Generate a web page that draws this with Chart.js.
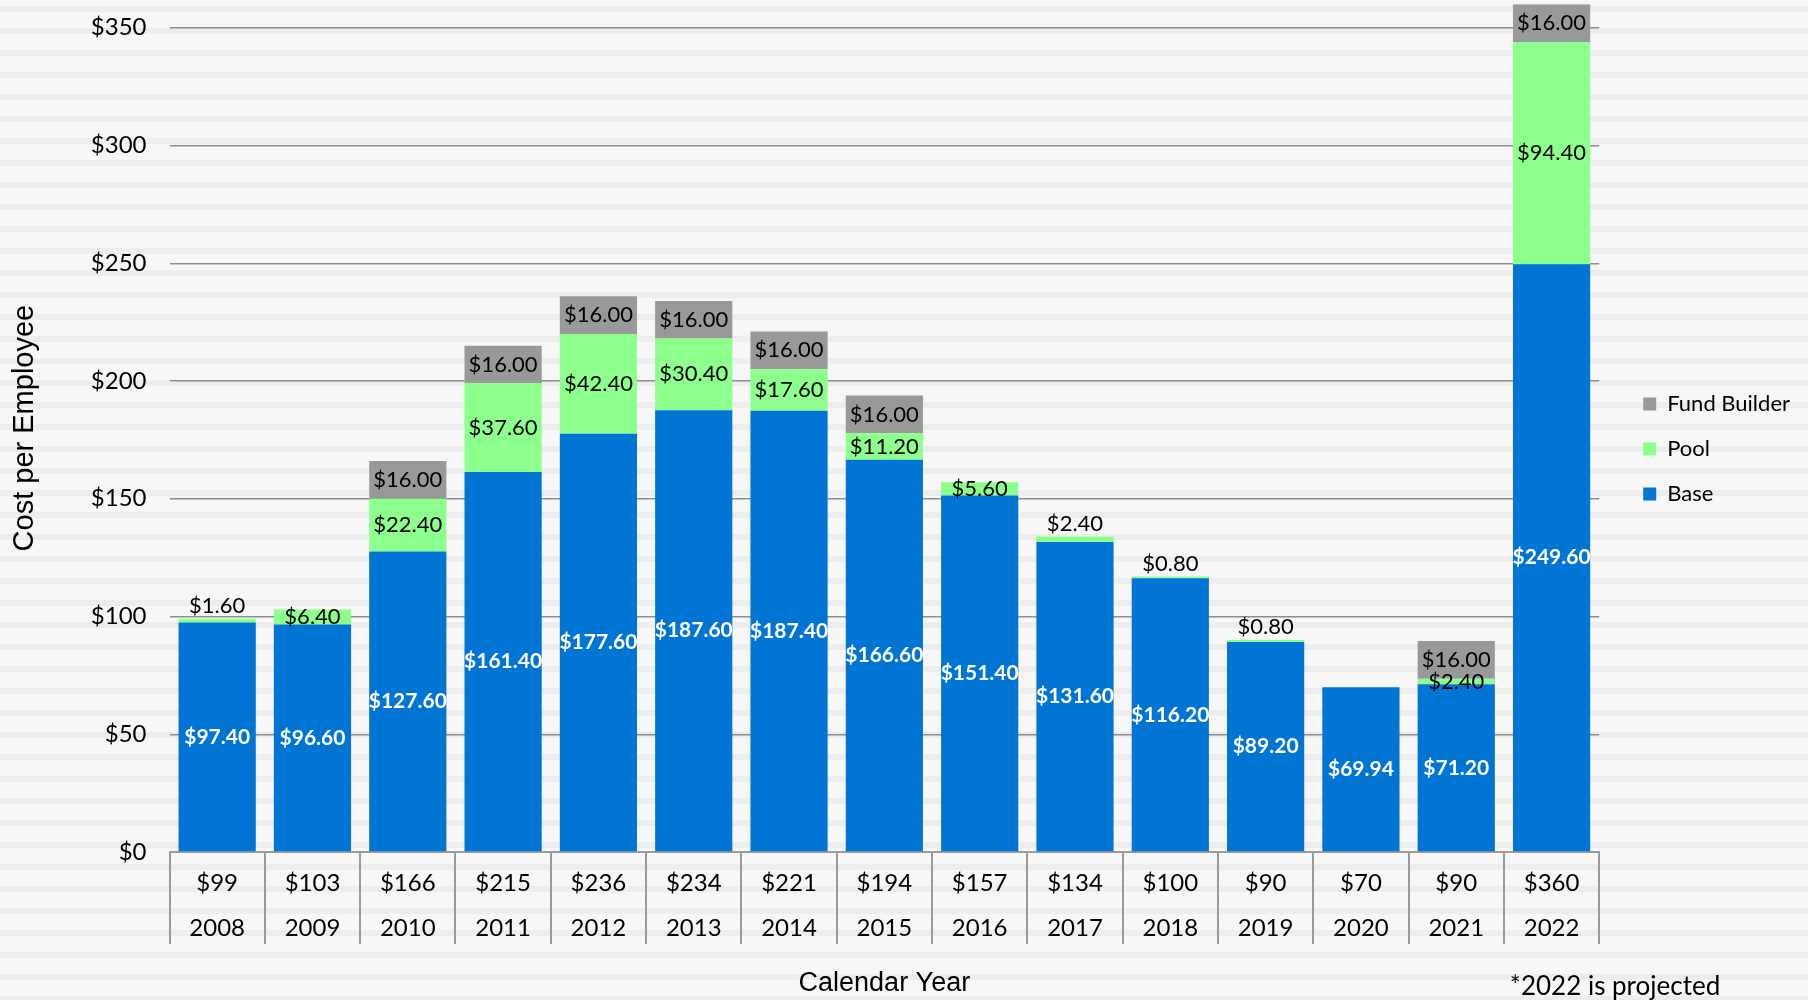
<!DOCTYPE html>
<html>
<head>
<meta charset="utf-8">
<script src="https://cdn.jsdelivr.net/npm/chart.js@4.4.1/dist/chart.umd.min.js"></script>
<style>
html, body { margin: 0; padding: 0; background: #f7f7f7; }
#wrap { width: 1808px; height: 1000px; position: relative; }
</style>
</head>
<body>
<div id="wrap"><canvas id="myChart"></canvas></div>
<script>
let years = ['2008', '2009', '2010', '2011', '2012', '2013', '2014', '2015', '2016', '2017', '2018', '2019', '2020', '2021', '2022'];
let totals = ['$99', '$103', '$166', '$215', '$236', '$234', '$221', '$194', '$157', '$134', '$100', '$90', '$70', '$90', '$360'];
let base = [97.40, 96.60, 127.60, 161.40, 177.60, 187.60, 187.40, 166.60, 151.40, 131.60, 116.20, 89.20, 69.94, 71.20, 249.60];
let pool = [1.60, 6.40, 22.40, 37.60, 42.40, 30.40, 17.60, 11.20, 5.60, 2.40, 0.80, 0.80, 0, 2.40, 94.40];
let fundBuilder = [0, 0, 16, 16, 16, 16, 16, 16, 0, 0, 0, 0, 0, 16, 16];
let note = '*2022 is projected';

// rayas del fondo
const fondo = {
    id: 'fondo',
    beforeDraw(chart) {
        const c = chart.ctx;
        c.save();
        c.fillStyle = '#f7f7f7';
        c.fillRect(0, 0, chart.width, chart.height);
        c.fillStyle = '#ededed';
        for (let y = 6; y < chart.height; y += 22) {
            c.fillRect(0, y, chart.width, 6);
        }
        c.restore();
    }
};

// valores sobre las barras
const etiquetas = {
    id: 'etiquetas',
    afterDatasetsDraw(chart) {
        const c = chart.ctx;
        const sets = chart.data.datasets;
        c.save();
        c.textAlign = 'center';
        sets.forEach((ds, d) => {
            chart.getDatasetMeta(d).data.forEach((bar, i) => {
                const v = ds.data[i];
                if (!v) return;
                const p = bar.getProps(['x', 'y', 'base'], true);
                const txt = '$' + v.toFixed(2);
                if (d === 0) {
                    c.font = 'bold 21px Lato';
                    c.fillStyle = '#fff';
                } else {
                    c.font = '22px Lato';
                    c.fillStyle = '#000';
                }
                const arriba = sets.slice(d + 1).every(o => !o.data[i]);
                if (arriba && v < 3) {
                    c.textBaseline = 'bottom';
                    c.fillText(txt, p.x, p.y - 2);
                } else {
                    c.textBaseline = 'middle';
                    c.fillText(txt, p.x, (p.y + p.base) / 2);
                }
            });
        });
        c.restore();
    }
};

const nota = {
    id: 'nota',
    afterDraw(chart) {
        const c = chart.ctx;
        c.save();
        c.font = '26px Lato';
        c.fillStyle = '#000';
        c.textAlign = 'right';
        c.textBaseline = 'alphabetic';
        c.fillText(note, chart.chartArea.right + 121, chart.height - 5);
        c.restore();
    }
};

let ctx = document.getElementById('myChart').getContext('2d');
let myChart = new Chart(ctx, {
    type: 'bar',
    data: {
        labels: years.map((y, i) => [totals[i], y]),
        datasets: [{
            label: 'Base',
            data: base,
            backgroundColor: '#0075d4'
        }, {
            label: 'Pool',
            data: pool,
            backgroundColor: '#8cff8c'
        }, {
            label: 'Fund Builder',
            data: fundBuilder,
            backgroundColor: '#999999'
        }]
    },
    plugins: [fondo, etiquetas, nota],
    options: {
        responsive: true,
        maintainAspectRatio: false,
        animation: false,
        datasets: {
            bar: { categoryPercentage: 1, barPercentage: 0.81, borderWidth: 0 }
        },
        layout: { padding: { top: 4.2, left: 0, right: 8, bottom: 0 } },
        plugins: {
            tooltip: { enabled: false },
            legend: {
                position: 'right',
                fullSize: false,
                reverse: true,
                title: { display: true, text: ' ', padding: 9, font: { size: 20 } },
                labels: {
                    boxWidth: 13,
                    boxHeight: 13,
                    padding: 23,
                    color: '#000',
                    font: { family: 'Lato', size: 22 }
                }
            }
        },
        scales: {
            x: {
                stacked: true,
                grid: { offset: true, drawOnChartArea: false, drawTicks: true, tickLength: 92, color: '#9a9a9a', lineWidth: 2 },
                border: { display: true, color: '#9a9a9a', width: 2 },
                ticks: {
                    autoSkip: false,
                    maxRotation: 0,
                    padding: -83,
                    color: '#000',
                    font: { family: 'Lato', size: 24, lineHeight: 1.875 }
                },
                title: {
                    display: true,
                    text: 'Calendar Year',
                    color: '#000',
                    font: { family: 'Liberation Sans', size: 27 },
                    padding: 0
                },
                afterFit: s => { s.height = 148; s.paddingLeft = 0; s.paddingRight = 0; }
            },
            y: {
                stacked: true,
                min: 0,
                max: 360,
                ticks: {
                    stepSize: 50,
                    includeBounds: false,
                    padding: 23,
                    color: '#000',
                    font: { family: 'Lato', size: 24 },
                    callback: v => '$' + v
                },
                grid: { color: '#8e8e8e', lineWidth: 1.5, drawTicks: false },
                border: { display: false },
                title: {
                    display: true,
                    text: 'Cost per Employee',
                    color: '#000',
                    font: { family: 'Liberation Sans', size: 29 },
                    padding: { top: 8, bottom: 0 }
                },
                afterFit: s => { s.width = 169.5; s.paddingTop = 0; s.paddingBottom = 0; }
            },
            gap: {
                type: 'linear',
                position: 'right',
                grid: { display: false },
                ticks: { display: false },
                border: { display: false },
                afterFit: s => { s.width = 21; s.paddingTop = 0; s.paddingBottom = 0; }
            }
        }
    }
});
</script>
</body>
</html>
